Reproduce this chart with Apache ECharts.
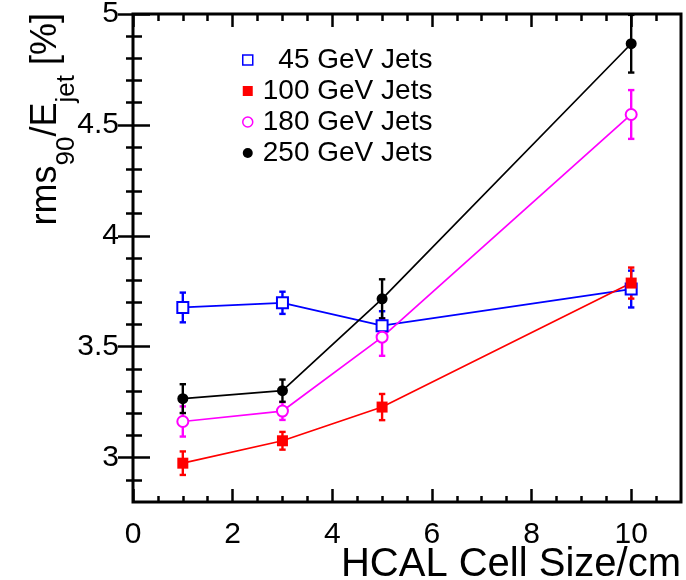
<!DOCTYPE html>
<html>
<head>
<meta charset="utf-8">
<script src="https://cdn.jsdelivr.net/npm/echarts@6/dist/echarts.min.js"></script>
<style>
html,body{margin:0;padding:0;background:#fff;}
#chart{width:686px;height:580px;}
</style>
</head>
<body>
<div id="chart"></div>
<script>
// ---- data ----
const cellSizes = [1, 3, 5, 10];
const seriesNames = ['45 GeV Jets', '100 GeV Jets', '180 GeV Jets', '250 GeV Jets'];
const jets45 = [3.677, 3.698, 3.595, 3.760];
const jets45Err = [0.067, 0.050, 0.065, 0.083];
const jets100 = [2.975, 3.076, 3.228, 3.787];
const jets100Err = [0.053, 0.040, 0.059, 0.070];
const jets180 = [3.163, 3.210, 3.543, 4.547];
const jets180Err = [0.068, 0.040, 0.084, 0.110];
const jets250 = [3.266, 3.302, 3.716, 4.866];
const jets250Err = [0.065, 0.050, 0.088, 0.130];

const xMajorTicks = [0, 2, 4, 6, 8, 10];
const xMinorTicks = [0.5, 1, 1.5, 2.5, 3, 3.5, 4.5, 5, 5.5, 6.5, 7, 7.5, 8.5, 9, 9.5, 10.5];
const yMajorTicks = [3, 3.5, 4, 4.5, 5];
const yMinorTicks = [2.9, 3.1, 3.2, 3.3, 3.4, 3.6, 3.7, 3.8, 3.9, 4.1, 4.2, 4.3, 4.4, 4.6, 4.7, 4.8, 4.9];

// ---- styles ----
const FONT = "'Liberation Sans', Arial, Helvetica, sans-serif";
const colors = ['#0000ff', '#ff0000', '#ff00ff', '#000000'];
const symbols = ['emptyRect', 'rect', 'emptyCircle', 'circle'];
const legendIcons = ['rect', 'rect', 'circle', 'circle'];
const hollow = [true, false, true, false];
const values = [jets45, jets100, jets180, jets250];
const errors = [jets45Err, jets100Err, jets180Err, jets250Err];

const X_MIN = 0, X_MAX = 11, Y_MIN = 2.8, Y_MAX = 5;

function tickAxis(pos, ticks, len, extra) {
  return Object.assign({
    type: 'value', position: pos, gridIndex: 0,
    min: (pos === 'bottom' || pos === 'top') ? X_MIN : Y_MIN,
    max: (pos === 'bottom' || pos === 'top') ? X_MAX : Y_MAX,
    axisLine: { show: false },
    splitLine: { show: false },
    axisLabel: { show: false },
    axisTick: { show: true, inside: true, length: len, customValues: ticks,
      lineStyle: { color: '#000', width: 2.5 } },
    nameMoveOverlap: false
  }, extra || {});
}

const xAxes = [
  tickAxis('bottom', xMajorTicks, 13, {
    axisLabel: { show: true, customValues: xMajorTicks, margin: 18, fontSize: 30,
      color: '#000', fontFamily: FONT },
    name: 'HCAL Cell Size/cm',
    nameLocation: 'end', nameGap: 0,
    nameTextStyle: { fontSize: 40, lineHeight: 40, color: '#000', fontFamily: FONT,
      align: 'right', verticalAlign: 'top', padding: [43, 0, 0, 0] }
  }),
  tickAxis('bottom', xMinorTicks, 6),
  tickAxis('top', xMajorTicks, 13),
  tickAxis('top', xMinorTicks, 7)
];

const yAxes = [
  tickAxis('left', yMajorTicks, 17, {
    axisLabel: { show: true, customValues: yMajorTicks, margin: 14, fontSize: 30,
      color: '#000', fontFamily: FONT },
    name: '{m|rms}{s|90}{m|/E}{s|jet}{m| [%]}',
    nameLocation: 'end', nameGap: 1, nameRotate: 90,
    nameTextStyle: {
      color: '#000', fontFamily: FONT, align: 'right', verticalAlign: 'bottom',
      padding: [0, 0, 69, 0],
      rich: {
        m: { fontSize: 36, lineHeight: 36, verticalAlign: 'top', color: '#000', fontFamily: FONT },
        s: { fontSize: 26, lineHeight: 26, verticalAlign: 'top', padding: [26, 0, 0, 0], color: '#000', fontFamily: FONT }
      }
    }
  }),
  tickAxis('left', yMinorTicks, 9),
  tickAxis('right', yMajorTicks, 15),
  tickAxis('right', yMinorTicks, 7)
];

const series = [];
// error bars
seriesNames.forEach((name, k) => {
  series.push({
    type: 'custom',
    name: name + ' err',
    xAxisIndex: 0, yAxisIndex: 0,
    z: 2,
    silent: true,
    data: cellSizes.map((x, i) => [x, values[k][i] - errors[k][i], values[k][i] + errors[k][i]]),
    renderItem: function (params, api) {
      const x = api.value(0);
      const lo = api.coord([x, api.value(1)]);
      const hi = api.coord([x, api.value(2)]);
      const cw = 3.2;
      const st = { stroke: colors[k], lineWidth: 2.4 };
      return {
        type: 'group',
        children: [
          { type: 'line', shape: { x1: lo[0], y1: lo[1], x2: hi[0], y2: hi[1] }, style: st },
          { type: 'line', shape: { x1: lo[0] - cw, y1: lo[1], x2: lo[0] + cw, y2: lo[1] }, style: st },
          { type: 'line', shape: { x1: hi[0] - cw, y1: hi[1], x2: hi[0] + cw, y2: hi[1] }, style: st }
        ]
      };
    }
  });
});
// lines with markers
seriesNames.forEach((name, k) => {
  series.push({
    type: 'line',
    name: name,
    xAxisIndex: 0, yAxisIndex: 0,
    z: 3,
    data: cellSizes.map((x, i) => [x, values[k][i]]),
    symbol: symbols[k],
    symbolSize: 11,
    showSymbol: true,
    lineStyle: { color: colors[k], width: 1.7 },
    itemStyle: { color: colors[k], borderColor: colors[k], borderWidth: hollow[k] ? 1.6 : 0 },
    emphasis: { disabled: true }
  });
});

const chart = echarts.init(document.getElementById('chart'), null, { renderer: 'canvas' });
chart.setOption({
  animation: false,
  backgroundColor: '#fff',
  grid: {
    left: 133, right: 5, top: 14, bottom: 78,
    containLabel: false, outerBoundsMode: 'none',
    show: true, borderColor: '#000', borderWidth: 3, backgroundColor: 'transparent'
  },
  legend: {
    orient: 'vertical',
    left: 237, top: 41,
    itemWidth: 10, itemHeight: 10, itemGap: 3,
    selectedMode: false,
    formatter: function (name) { return name === '45 GeV Jets' ? '  ' + name : name; },
    textStyle: { fontSize: 28, lineHeight: 28, color: '#000', fontFamily: FONT, padding: [0, 0, 0, 5] },
    data: seriesNames.map((name, k) => ({
      name: name,
      icon: legendIcons[k],
      itemStyle: hollow[k]
        ? { color: '#fff', borderColor: colors[k], borderWidth: 1.5 }
        : { color: colors[k], borderColor: colors[k], borderWidth: 0 }
    }))
  },
  xAxis: xAxes,
  yAxis: yAxes,
  series: series
});
</script>
</body>
</html>
